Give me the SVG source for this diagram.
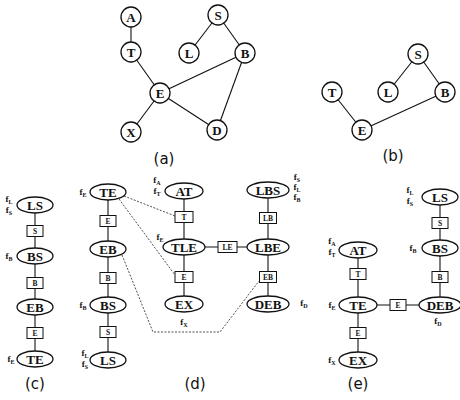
<svg xmlns="http://www.w3.org/2000/svg" width="460" height="400" viewBox="0 0 460 400">
<style>
.c{fill:#fff;stroke:#111;stroke-width:1.3}
.n{fill:#fff;stroke:#111;stroke-width:1.3}
.b{fill:#fff;stroke:#111;stroke-width:1}
.t{font-family:"Liberation Serif",serif;font-weight:bold;font-size:13px;text-anchor:middle;dominant-baseline:central;fill:#111}
.bt{font-family:"Liberation Serif",serif;font-weight:bold;font-size:7.5px;text-anchor:middle;dominant-baseline:central;fill:#111}
.f{font-family:"Liberation Serif",serif;font-weight:bold;font-size:9px;text-anchor:middle;fill:#111}
.s{font-size:6px}
.cap{font-family:"DejaVu Sans",sans-serif;font-size:15px;text-anchor:middle;fill:#111}
.e{stroke:#111;stroke-width:1.1;fill:none}
.d{stroke:#222;stroke-width:0.8;fill:none;stroke-dasharray:2 1.5}
</style>
<g id="connectors">
<line class="e" x1="131" y1="17" x2="131" y2="52"/>
<line class="e" x1="131" y1="52" x2="160" y2="93"/>
<line class="e" x1="218" y1="15" x2="189" y2="53"/>
<line class="e" x1="218" y1="15" x2="245" y2="53"/>
<line class="e" x1="245" y1="53" x2="160" y2="93"/>
<line class="e" x1="245" y1="53" x2="217" y2="130"/>
<line class="e" x1="160" y1="93" x2="131" y2="132"/>
<line class="e" x1="160" y1="93" x2="217" y2="130"/>
<line class="e" x1="418" y1="54" x2="388" y2="92"/>
<line class="e" x1="418" y1="54" x2="445" y2="92"/>
<line class="e" x1="332" y1="92" x2="362" y2="130"/>
<line class="e" x1="362" y1="130" x2="445" y2="92"/>
<line class="e" x1="35" y1="205" x2="35" y2="359"/>
<line class="e" x1="108" y1="192" x2="108" y2="360"/>
<line class="e" x1="184" y1="191" x2="184" y2="304"/>
<line class="e" x1="268" y1="190" x2="268" y2="304"/>
<line class="e" x1="184" y1="247" x2="268" y2="247"/>
<line class="d" x1="124" y1="196" x2="175" y2="216"/>
<line class="d" x1="119" y1="199" x2="175" y2="275"/>
<polyline class="d" points="122,255 153,332 220,332 259,281"/>
<line class="e" x1="358" y1="250" x2="358" y2="360"/>
<line class="e" x1="440" y1="197" x2="440" y2="305"/>
<line class="e" x1="358" y1="305" x2="440" y2="305"/>
</g>
<g id="a-A"><circle class="c" cx="131" cy="17" r="10"/><text class="t" x="131" y="17">A</text></g>
<g id="a-T"><circle class="c" cx="131" cy="52" r="10"/><text class="t" x="131" y="52">T</text></g>
<g id="a-S"><circle class="c" cx="218" cy="15" r="10"/><text class="t" x="218" y="15">S</text></g>
<g id="a-L"><circle class="c" cx="189" cy="53" r="10"/><text class="t" x="189" y="53">L</text></g>
<g id="a-B"><circle class="c" cx="245" cy="53" r="10"/><text class="t" x="245" y="53">B</text></g>
<g id="a-E"><circle class="c" cx="160" cy="93" r="10"/><text class="t" x="160" y="93">E</text></g>
<g id="a-X"><circle class="c" cx="131" cy="132" r="10"/><text class="t" x="131" y="132">X</text></g>
<g id="a-D"><circle class="c" cx="217" cy="130" r="10"/><text class="t" x="217" y="130">D</text></g>
<text class="cap" x="164" y="164">(a)</text>
<g id="b-S"><circle class="c" cx="418" cy="54" r="10"/><text class="t" x="418" y="54">S</text></g>
<g id="b-T"><circle class="c" cx="332" cy="92" r="10"/><text class="t" x="332" y="92">T</text></g>
<g id="b-L"><circle class="c" cx="388" cy="92" r="10"/><text class="t" x="388" y="92">L</text></g>
<g id="b-B"><circle class="c" cx="445" cy="92" r="10"/><text class="t" x="445" y="92">B</text></g>
<g id="b-E"><circle class="c" cx="362" cy="130" r="10"/><text class="t" x="362" y="130">E</text></g>
<text class="cap" x="393" y="161">(b)</text>
<g id="c-LS"><ellipse class="n" cx="35" cy="205" rx="18" ry="8"/><text class="t" x="35" y="205">LS</text></g>
<g id="c-sS"><rect class="b" x="27" y="225.5" width="16" height="11"/><text class="bt" x="35" y="231">S</text></g>
<g id="c-BS"><ellipse class="n" cx="35" cy="256" rx="18" ry="8"/><text class="t" x="35" y="256">BS</text></g>
<g id="c-sB"><rect class="b" x="27" y="277.5" width="16" height="11"/><text class="bt" x="35" y="283">B</text></g>
<g id="c-EB"><ellipse class="n" cx="35" cy="307" rx="18" ry="8"/><text class="t" x="35" y="307">EB</text></g>
<g id="c-sE"><rect class="b" x="27" y="327.5" width="16" height="11"/><text class="bt" x="35" y="333">E</text></g>
<g id="c-TE"><ellipse class="n" cx="35" cy="359" rx="18" ry="8"/><text class="t" x="35" y="359">TE</text></g>
<g id="c-f">
<text class="f" x="9" y="202">f<tspan class="s" dy="1.5">L</tspan></text>
<text class="f" x="9" y="213">f<tspan class="s" dy="1.5">S</tspan></text>
<text class="f" x="9" y="259">f<tspan class="s" dy="1.5">B</tspan></text>
<text class="f" x="11" y="362">f<tspan class="s" dy="1.5">E</tspan></text>
</g>
<text class="cap" x="35" y="389">(c)</text>
<g id="d-TE"><ellipse class="n" cx="108" cy="192" rx="18" ry="8"/><text class="t" x="108" y="192">TE</text></g>
<g id="d-sE1"><rect class="b" x="100" y="215.5" width="16" height="11"/><text class="bt" x="108" y="221">E</text></g>
<g id="d-EB"><ellipse class="n" cx="108" cy="249" rx="18" ry="8"/><text class="t" x="108" y="249">EB</text></g>
<g id="d-sB"><rect class="b" x="100" y="272.5" width="16" height="11"/><text class="bt" x="108" y="278">B</text></g>
<g id="d-BS"><ellipse class="n" cx="108" cy="305" rx="18" ry="8"/><text class="t" x="108" y="305">BS</text></g>
<g id="d-sS"><rect class="b" x="100" y="326.5" width="16" height="11"/><text class="bt" x="108" y="332">S</text></g>
<g id="d-LS"><ellipse class="n" cx="108" cy="360" rx="18" ry="8"/><text class="t" x="108" y="360">LS</text></g>
<g id="d-AT"><ellipse class="n" cx="184" cy="191" rx="19" ry="8"/><text class="t" x="184" y="191">AT</text></g>
<g id="d-sT"><rect class="b" x="175" y="211.5" width="18" height="11"/><text class="bt" x="184" y="217">T</text></g>
<g id="d-TLE"><ellipse class="n" cx="184" cy="247" rx="21" ry="8"/><text class="t" x="184" y="247">TLE</text></g>
<g id="d-sE2"><rect class="b" x="175" y="271.5" width="18" height="11"/><text class="bt" x="184" y="277">E</text></g>
<g id="d-EX"><ellipse class="n" cx="184" cy="304" rx="19" ry="8"/><text class="t" x="184" y="304">EX</text></g>
<g id="d-sLE"><rect class="b" x="218" y="241.5" width="19" height="11"/><text class="bt" x="227.5" y="247">LE</text></g>
<g id="d-LBS"><ellipse class="n" cx="268" cy="190" rx="21" ry="8"/><text class="t" x="268" y="190">LBS</text></g>
<g id="d-sLB"><rect class="b" x="259.5" y="212.5" width="17" height="11"/><text class="bt" x="268" y="218">LB</text></g>
<g id="d-LBE"><ellipse class="n" cx="268" cy="247" rx="21" ry="8"/><text class="t" x="268" y="247">LBE</text></g>
<g id="d-sEB"><rect class="b" x="259.5" y="271.5" width="17" height="11"/><text class="bt" x="268" y="277">EB</text></g>
<g id="d-DEB"><ellipse class="n" cx="268" cy="304" rx="21" ry="8"/><text class="t" x="268" y="304">DEB</text></g>
<g id="d-f">
<text class="f" x="83" y="195">f<tspan class="s" dy="1.5">E</tspan></text>
<text class="f" x="83" y="308">f<tspan class="s" dy="1.5">B</tspan></text>
<text class="f" x="85" y="356">f<tspan class="s" dy="1.5">L</tspan></text>
<text class="f" x="85" y="367">f<tspan class="s" dy="1.5">S</tspan></text>
<text class="f" x="157" y="183">f<tspan class="s" dy="1.5">A</tspan></text>
<text class="f" x="157" y="194">f<tspan class="s" dy="1.5">T</tspan></text>
<text class="f" x="160" y="240">f<tspan class="s" dy="1.5">E</tspan></text>
<text class="f" x="184" y="325">f<tspan class="s" dy="1.5">X</tspan></text>
<text class="f" x="297" y="180">f<tspan class="s" dy="1.5">S</tspan></text>
<text class="f" x="297" y="190">f<tspan class="s" dy="1.5">L</tspan></text>
<text class="f" x="297" y="200">f<tspan class="s" dy="1.5">B</tspan></text>
<text class="f" x="304" y="306">f<tspan class="s" dy="1.5">D</tspan></text>
</g>
<text class="cap" x="195" y="389">(d)</text>
<g id="e-AT"><ellipse class="n" cx="358" cy="250" rx="19" ry="8"/><text class="t" x="358" y="250">AT</text></g>
<g id="e-sT"><rect class="b" x="350" y="268.5" width="16" height="11"/><text class="bt" x="358" y="274">T</text></g>
<g id="e-TE"><ellipse class="n" cx="358" cy="305" rx="19" ry="8"/><text class="t" x="358" y="305">TE</text></g>
<g id="e-sE1"><rect class="b" x="350" y="327.5" width="16" height="11"/><text class="bt" x="358" y="333">E</text></g>
<g id="e-EX"><ellipse class="n" cx="358" cy="360" rx="19" ry="8"/><text class="t" x="358" y="360">EX</text></g>
<g id="e-sE2"><rect class="b" x="390" y="299.5" width="16" height="11"/><text class="bt" x="398" y="305">E</text></g>
<g id="e-LS"><ellipse class="n" cx="440" cy="197" rx="18" ry="8"/><text class="t" x="440" y="197">LS</text></g>
<g id="e-sS"><rect class="b" x="432" y="217.5" width="16" height="11"/><text class="bt" x="440" y="223">S</text></g>
<g id="e-BS"><ellipse class="n" cx="440" cy="248" rx="18" ry="8"/><text class="t" x="440" y="248">BS</text></g>
<g id="e-sB"><rect class="b" x="432" y="271.5" width="16" height="11"/><text class="bt" x="440" y="277">B</text></g>
<g id="e-DEB"><ellipse class="n" cx="440" cy="305" rx="21" ry="8"/><text class="t" x="440" y="305">DEB</text></g>
<g id="e-f">
<text class="f" x="332" y="244">f<tspan class="s" dy="1.5">A</tspan></text>
<text class="f" x="332" y="255">f<tspan class="s" dy="1.5">T</tspan></text>
<text class="f" x="332" y="308">f<tspan class="s" dy="1.5">E</tspan></text>
<text class="f" x="332" y="363">f<tspan class="s" dy="1.5">X</tspan></text>
<text class="f" x="410" y="193">f<tspan class="s" dy="1.5">L</tspan></text>
<text class="f" x="410" y="204">f<tspan class="s" dy="1.5">S</tspan></text>
<text class="f" x="413" y="251">f<tspan class="s" dy="1.5">B</tspan></text>
<text class="f" x="438" y="324">f<tspan class="s" dy="1.5">D</tspan></text>
</g>
<text class="cap" x="358" y="389">(e)</text>
</svg>
